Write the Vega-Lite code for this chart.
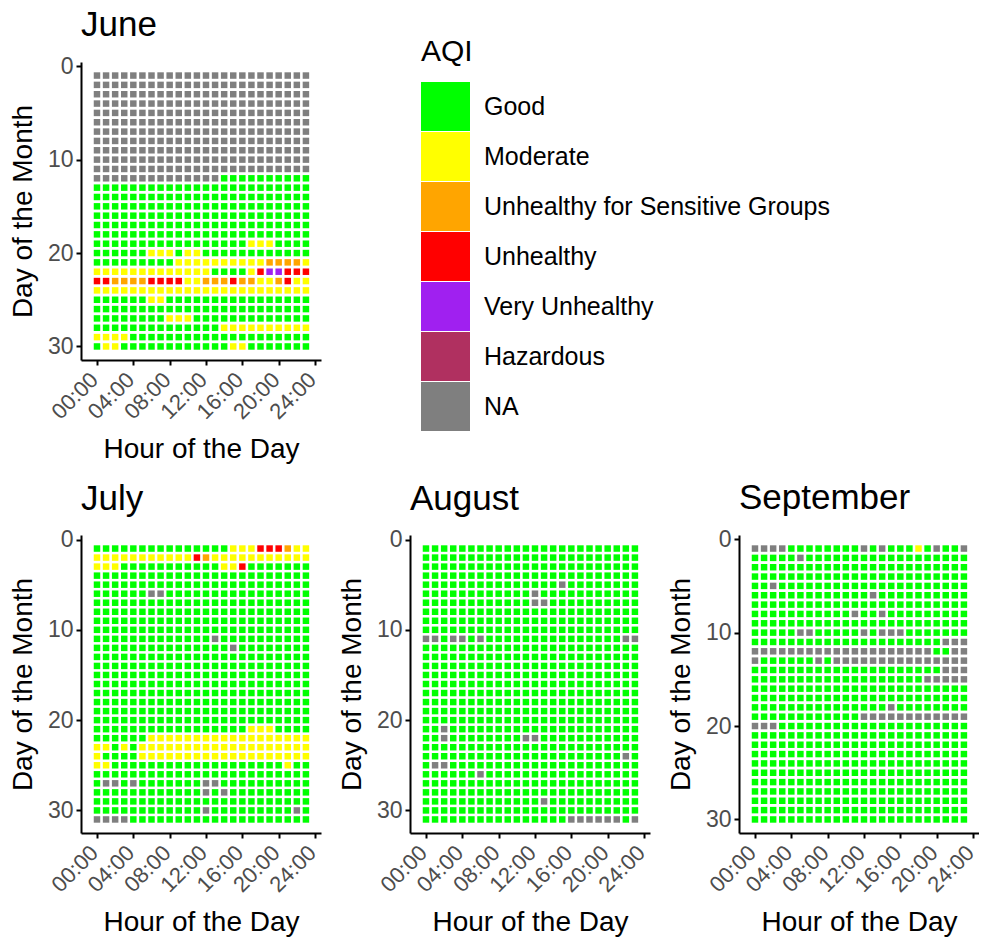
{
"$schema":"https://vega.github.io/schema/vega-lite/v6.json",
"padding":{"left":9,"top":8,"right":0,"bottom":0},
"background":"white",
"config":{"font":"Liberation Sans","view":{"stroke":null},
"axis":{"grid":false,"domainColor":"black","domainWidth":2,"tickColor":"black","tickWidth":2,"tickSize":5,"labelColor":"#4D4D4D","labelFontSize":22,"labelPadding":3,"labelOverlap":false,"titleFontSize":28,"titleFontWeight":"normal","titleColor":"black"},
"axisX":{"titlePadding":13,"labelPadding":11,"labelOffset":-3},
"axisY":{"titlePadding":10,"labelFontSize":23},
"legend":{"orient":"none","legendX":340,"legendY":-25,"symbolType":"square","symbolSize":2401,"symbolStrokeWidth":0,"symbolOpacity":1,"rowPadding":1,"labelFontSize":25,"labelOffset":14,"labelColor":"black","labelLimit":0,"titleFontSize":30,"titleFontWeight":"normal","titleColor":"black","titlePadding":15,"padding":0},
"title":{"fontSize":35,"fontWeight":"normal","anchor":"start","frame":"group","color":"black","offset":12,"baseline":"alphabetic"}},
"datasets":{
"jun":[
{"d":1,"0":"N","1":"N","2":"N","3":"N","4":"N","5":"N","6":"N","7":"N","8":"N","9":"N","10":"N","11":"N","12":"N","13":"N","14":"N","15":"N","16":"N","17":"N","18":"N","19":"N","20":"N","21":"N","22":"N","23":"N"},
{"d":2,"0":"N","1":"N","2":"N","3":"N","4":"N","5":"N","6":"N","7":"N","8":"N","9":"N","10":"N","11":"N","12":"N","13":"N","14":"N","15":"N","16":"N","17":"N","18":"N","19":"N","20":"N","21":"N","22":"N","23":"N"},
{"d":3,"0":"N","1":"N","2":"N","3":"N","4":"N","5":"N","6":"N","7":"N","8":"N","9":"N","10":"N","11":"N","12":"N","13":"N","14":"N","15":"N","16":"N","17":"N","18":"N","19":"N","20":"N","21":"N","22":"N","23":"N"},
{"d":4,"0":"N","1":"N","2":"N","3":"N","4":"N","5":"N","6":"N","7":"N","8":"N","9":"N","10":"N","11":"N","12":"N","13":"N","14":"N","15":"N","16":"N","17":"N","18":"N","19":"N","20":"N","21":"N","22":"N","23":"N"},
{"d":5,"0":"N","1":"N","2":"N","3":"N","4":"N","5":"N","6":"N","7":"N","8":"N","9":"N","10":"N","11":"N","12":"N","13":"N","14":"N","15":"N","16":"N","17":"N","18":"N","19":"N","20":"N","21":"N","22":"N","23":"N"},
{"d":6,"0":"N","1":"N","2":"N","3":"N","4":"N","5":"N","6":"N","7":"N","8":"N","9":"N","10":"N","11":"N","12":"N","13":"N","14":"N","15":"N","16":"N","17":"N","18":"N","19":"N","20":"N","21":"N","22":"N","23":"N"},
{"d":7,"0":"N","1":"N","2":"N","3":"N","4":"N","5":"N","6":"N","7":"N","8":"N","9":"N","10":"N","11":"N","12":"N","13":"N","14":"N","15":"N","16":"N","17":"N","18":"N","19":"N","20":"N","21":"N","22":"N","23":"N"},
{"d":8,"0":"N","1":"N","2":"N","3":"N","4":"N","5":"N","6":"N","7":"N","8":"N","9":"N","10":"N","11":"N","12":"N","13":"N","14":"N","15":"N","16":"N","17":"N","18":"N","19":"N","20":"N","21":"N","22":"N","23":"N"},
{"d":9,"0":"N","1":"N","2":"N","3":"N","4":"N","5":"N","6":"N","7":"N","8":"N","9":"N","10":"N","11":"N","12":"N","13":"N","14":"N","15":"N","16":"N","17":"N","18":"N","19":"N","20":"N","21":"N","22":"N","23":"N"},
{"d":10,"0":"N","1":"N","2":"N","3":"N","4":"N","5":"N","6":"N","7":"N","8":"N","9":"N","10":"N","11":"N","12":"N","13":"N","14":"N","15":"N","16":"N","17":"N","18":"N","19":"N","20":"N","21":"N","22":"N","23":"N"},
{"d":11,"0":"N","1":"N","2":"N","3":"N","4":"N","5":"N","6":"N","7":"N","8":"N","9":"N","10":"N","11":"N","12":"N","13":"N","14":"N","15":"N","16":"N","17":"N","18":"N","19":"N","20":"N","21":"N","22":"N","23":"N"},
{"d":12,"0":"N","1":"N","2":"N","3":"N","4":"N","5":"N","6":"N","7":"N","8":"N","9":"N","10":"N","11":"N","12":"N","13":"N","14":"G","15":"G","16":"G","17":"G","18":"G","19":"G","20":"G","21":"G","22":"G","23":"G"},
{"d":13,"0":"G","1":"G","2":"G","3":"G","4":"G","5":"G","6":"G","7":"G","8":"G","9":"G","10":"G","11":"G","12":"G","13":"G","14":"G","15":"G","16":"G","17":"G","18":"G","19":"G","20":"G","21":"G","22":"G","23":"G"},
{"d":14,"0":"G","1":"G","2":"G","3":"G","4":"G","5":"G","6":"G","7":"G","8":"G","9":"G","10":"G","11":"G","12":"G","13":"G","14":"G","15":"G","16":"G","17":"G","18":"G","19":"G","20":"G","21":"G","22":"G","23":"G"},
{"d":15,"0":"G","1":"G","2":"G","3":"G","4":"G","5":"G","6":"G","7":"G","8":"G","9":"G","10":"G","11":"G","12":"G","13":"G","14":"G","15":"G","16":"G","17":"G","18":"G","19":"G","20":"G","21":"G","22":"G","23":"G"},
{"d":16,"0":"G","1":"G","2":"G","3":"G","4":"G","5":"G","6":"G","7":"G","8":"G","9":"G","10":"G","11":"G","12":"G","13":"G","14":"G","15":"G","16":"G","17":"G","18":"G","19":"G","20":"G","21":"G","22":"G","23":"G"},
{"d":17,"0":"G","1":"G","2":"G","3":"G","4":"G","5":"G","6":"G","7":"G","8":"G","9":"G","10":"G","11":"G","12":"G","13":"G","14":"G","15":"G","16":"G","17":"G","18":"G","19":"G","20":"G","21":"G","22":"G","23":"G"},
{"d":18,"0":"G","1":"G","2":"G","3":"G","4":"G","5":"G","6":"G","7":"G","8":"G","9":"G","10":"G","11":"G","12":"G","13":"G","14":"G","15":"G","16":"G","17":"G","18":"G","19":"G","20":"G","21":"G","22":"G","23":"G"},
{"d":19,"0":"G","1":"G","2":"G","3":"G","4":"G","5":"G","6":"G","7":"G","8":"G","9":"G","10":"G","11":"G","12":"G","13":"G","14":"G","15":"G","16":"G","17":"M","18":"M","19":"M","20":"G","21":"G","22":"G","23":"G"},
{"d":20,"0":"G","1":"G","2":"G","3":"G","4":"G","5":"G","6":"M","7":"M","8":"M","9":"G","10":"M","11":"M","12":"G","13":"G","14":"G","15":"G","16":"G","17":"G","18":"G","19":"G","20":"G","21":"G","22":"G","23":"G"},
{"d":21,"0":"G","1":"G","2":"G","3":"G","4":"G","5":"G","6":"G","7":"G","8":"G","9":"M","10":"M","11":"M","12":"M","13":"M","14":"M","15":"M","16":"M","17":"M","18":"M","19":"O","20":"O","21":"O","22":"O","23":"M"},
{"d":22,"0":"M","1":"M","2":"M","3":"M","4":"M","5":"M","6":"M","7":"M","8":"M","9":"M","10":"M","11":"M","12":"M","13":"G","14":"G","15":"G","16":"G","17":"M","18":"R","19":"P","20":"P","21":"R","22":"R","23":"R"},
{"d":23,"0":"R","1":"R","2":"O","3":"O","4":"O","5":"O","6":"R","7":"R","8":"R","9":"R","10":"M","11":"M","12":"O","13":"O","14":"O","15":"R","16":"O","17":"O","18":"M","19":"M","20":"O","21":"R","22":"M","23":"M"},
{"d":24,"0":"M","1":"M","2":"M","3":"M","4":"M","5":"M","6":"M","7":"M","8":"M","9":"M","10":"M","11":"M","12":"M","13":"M","14":"M","15":"M","16":"M","17":"M","18":"M","19":"M","20":"M","21":"M","22":"M","23":"M"},
{"d":25,"0":"G","1":"G","2":"G","3":"G","4":"G","5":"G","6":"M","7":"M","8":"G","9":"G","10":"G","11":"G","12":"G","13":"G","14":"G","15":"G","16":"G","17":"G","18":"G","19":"G","20":"G","21":"G","22":"G","23":"G"},
{"d":26,"0":"G","1":"G","2":"G","3":"G","4":"G","5":"G","6":"G","7":"G","8":"G","9":"G","10":"G","11":"G","12":"G","13":"G","14":"G","15":"G","16":"G","17":"G","18":"G","19":"G","20":"G","21":"G","22":"G","23":"G"},
{"d":27,"0":"G","1":"G","2":"G","3":"G","4":"G","5":"G","6":"G","7":"G","8":"M","9":"M","10":"M","11":"G","12":"G","13":"G","14":"G","15":"G","16":"G","17":"G","18":"G","19":"G","20":"G","21":"G","22":"G","23":"G"},
{"d":28,"0":"G","1":"G","2":"G","3":"G","4":"G","5":"G","6":"G","7":"G","8":"G","9":"G","10":"G","11":"G","12":"G","13":"G","14":"M","15":"M","16":"M","17":"M","18":"M","19":"M","20":"M","21":"M","22":"M","23":"M"},
{"d":29,"0":"M","1":"M","2":"M","3":"M","4":"G","5":"G","6":"G","7":"G","8":"G","9":"G","10":"G","11":"G","12":"G","13":"G","14":"G","15":"G","16":"G","17":"G","18":"G","19":"G","20":"G","21":"G","22":"G","23":"G"},
{"d":30,"0":"G","1":"M","2":"M","3":"G","4":"G","5":"G","6":"G","7":"G","8":"G","9":"G","10":"G","11":"G","12":"G","13":"G","14":"G","15":"M","16":"M","17":"G","18":"G","19":"G","20":"G","21":"G","22":"G","23":"G"}
],
"jul":[
{"d":1,"0":"G","1":"G","2":"G","3":"G","4":"G","5":"G","6":"G","7":"G","8":"G","9":"G","10":"G","11":"G","12":"G","13":"G","14":"G","15":"M","16":"M","17":"M","18":"R","19":"R","20":"R","21":"O","22":"M","23":"M"},
{"d":2,"0":"M","1":"M","2":"M","3":"M","4":"M","5":"M","6":"M","7":"M","8":"M","9":"M","10":"M","11":"R","12":"O","13":"M","14":"M","15":"M","16":"M","17":"M","18":"M","19":"M","20":"M","21":"M","22":"M","23":"M"},
{"d":3,"0":"M","1":"M","2":"M","3":"G","4":"G","5":"G","6":"G","7":"G","8":"G","9":"G","10":"G","11":"G","12":"G","13":"G","14":"M","15":"M","16":"R","17":"G","18":"G","19":"G","20":"G","21":"G","22":"G","23":"G"},
{"d":4,"0":"G","1":"G","2":"G","3":"G","4":"G","5":"G","6":"G","7":"G","8":"G","9":"G","10":"G","11":"G","12":"G","13":"G","14":"G","15":"G","16":"G","17":"G","18":"G","19":"G","20":"G","21":"G","22":"G","23":"G"},
{"d":5,"0":"G","1":"G","2":"G","3":"G","4":"G","5":"G","6":"G","7":"G","8":"G","9":"G","10":"G","11":"G","12":"G","13":"G","14":"G","15":"G","16":"G","17":"G","18":"G","19":"G","20":"G","21":"G","22":"G","23":"G"},
{"d":6,"0":"G","1":"G","2":"G","3":"G","4":"G","5":"G","6":"N","7":"N","8":"G","9":"G","10":"G","11":"G","12":"G","13":"G","14":"G","15":"G","16":"G","17":"G","18":"G","19":"G","20":"G","21":"G","22":"G","23":"G"},
{"d":7,"0":"G","1":"G","2":"G","3":"G","4":"G","5":"G","6":"G","7":"G","8":"G","9":"G","10":"G","11":"G","12":"G","13":"G","14":"G","15":"G","16":"G","17":"G","18":"G","19":"G","20":"G","21":"G","22":"G","23":"G"},
{"d":8,"0":"G","1":"G","2":"G","3":"G","4":"G","5":"G","6":"G","7":"G","8":"G","9":"G","10":"G","11":"G","12":"G","13":"G","14":"G","15":"G","16":"G","17":"G","18":"G","19":"G","20":"G","21":"G","22":"G","23":"G"},
{"d":9,"0":"G","1":"G","2":"G","3":"G","4":"G","5":"G","6":"G","7":"G","8":"G","9":"G","10":"G","11":"G","12":"G","13":"G","14":"G","15":"G","16":"G","17":"G","18":"G","19":"G","20":"G","21":"G","22":"G","23":"G"},
{"d":10,"0":"G","1":"G","2":"G","3":"G","4":"G","5":"G","6":"G","7":"G","8":"G","9":"G","10":"G","11":"G","12":"G","13":"G","14":"G","15":"G","16":"G","17":"G","18":"G","19":"G","20":"G","21":"G","22":"G","23":"G"},
{"d":11,"0":"G","1":"G","2":"G","3":"G","4":"G","5":"G","6":"G","7":"G","8":"G","9":"G","10":"G","11":"G","12":"G","13":"N","14":"G","15":"G","16":"G","17":"G","18":"G","19":"G","20":"G","21":"G","22":"G","23":"G"},
{"d":12,"0":"G","1":"G","2":"G","3":"G","4":"G","5":"G","6":"G","7":"G","8":"G","9":"G","10":"G","11":"G","12":"G","13":"G","14":"G","15":"N","16":"G","17":"G","18":"G","19":"G","20":"G","21":"G","22":"G","23":"G"},
{"d":13,"0":"G","1":"G","2":"G","3":"G","4":"G","5":"G","6":"G","7":"G","8":"G","9":"G","10":"G","11":"G","12":"G","13":"G","14":"G","15":"G","16":"G","17":"G","18":"G","19":"G","20":"G","21":"G","22":"G","23":"G"},
{"d":14,"0":"G","1":"G","2":"G","3":"G","4":"G","5":"G","6":"G","7":"G","8":"G","9":"G","10":"G","11":"G","12":"G","13":"G","14":"G","15":"G","16":"G","17":"G","18":"G","19":"G","20":"G","21":"G","22":"G","23":"G"},
{"d":15,"0":"G","1":"G","2":"G","3":"G","4":"G","5":"G","6":"G","7":"G","8":"G","9":"G","10":"G","11":"G","12":"G","13":"G","14":"G","15":"G","16":"G","17":"G","18":"G","19":"G","20":"G","21":"G","22":"G","23":"G"},
{"d":16,"0":"G","1":"G","2":"G","3":"G","4":"G","5":"G","6":"G","7":"G","8":"G","9":"G","10":"G","11":"G","12":"G","13":"G","14":"G","15":"G","16":"G","17":"G","18":"G","19":"G","20":"G","21":"G","22":"G","23":"G"},
{"d":17,"0":"G","1":"G","2":"G","3":"G","4":"G","5":"G","6":"G","7":"G","8":"G","9":"G","10":"G","11":"G","12":"G","13":"G","14":"G","15":"G","16":"G","17":"G","18":"G","19":"G","20":"G","21":"G","22":"G","23":"G"},
{"d":18,"0":"G","1":"G","2":"G","3":"G","4":"G","5":"G","6":"G","7":"G","8":"G","9":"G","10":"G","11":"G","12":"G","13":"G","14":"G","15":"G","16":"G","17":"G","18":"G","19":"G","20":"G","21":"G","22":"G","23":"G"},
{"d":19,"0":"G","1":"G","2":"G","3":"G","4":"G","5":"G","6":"G","7":"G","8":"G","9":"G","10":"G","11":"G","12":"G","13":"G","14":"G","15":"G","16":"G","17":"G","18":"G","19":"G","20":"G","21":"G","22":"G","23":"G"},
{"d":20,"0":"G","1":"G","2":"G","3":"G","4":"G","5":"G","6":"G","7":"G","8":"G","9":"G","10":"G","11":"G","12":"G","13":"G","14":"G","15":"G","16":"G","17":"G","18":"G","19":"G","20":"G","21":"G","22":"G","23":"G"},
{"d":21,"0":"G","1":"G","2":"G","3":"G","4":"G","5":"G","6":"G","7":"G","8":"G","9":"G","10":"G","11":"G","12":"G","13":"G","14":"G","15":"G","16":"G","17":"M","18":"M","19":"M","20":"G","21":"G","22":"G","23":"G"},
{"d":22,"0":"G","1":"G","2":"G","3":"G","4":"G","5":"G","6":"M","7":"M","8":"M","9":"M","10":"M","11":"M","12":"M","13":"M","14":"M","15":"M","16":"M","17":"M","18":"M","19":"M","20":"M","21":"M","22":"M","23":"M"},
{"d":23,"0":"M","1":"M","2":"G","3":"M","4":"G","5":"M","6":"M","7":"M","8":"M","9":"M","10":"M","11":"M","12":"M","13":"M","14":"M","15":"M","16":"M","17":"M","18":"M","19":"M","20":"M","21":"M","22":"M","23":"M"},
{"d":24,"0":"M","1":"G","2":"G","3":"G","4":"G","5":"M","6":"M","7":"M","8":"M","9":"M","10":"M","11":"M","12":"M","13":"M","14":"M","15":"M","16":"M","17":"M","18":"M","19":"M","20":"M","21":"M","22":"M","23":"M"},
{"d":25,"0":"M","1":"M","2":"G","3":"G","4":"G","5":"G","6":"G","7":"G","8":"G","9":"G","10":"G","11":"G","12":"G","13":"G","14":"G","15":"G","16":"G","17":"G","18":"G","19":"G","20":"G","21":"M","22":"G","23":"G"},
{"d":26,"0":"G","1":"G","2":"G","3":"G","4":"G","5":"G","6":"G","7":"G","8":"G","9":"G","10":"G","11":"G","12":"G","13":"G","14":"G","15":"G","16":"G","17":"G","18":"G","19":"G","20":"G","21":"G","22":"G","23":"G"},
{"d":27,"0":"G","1":"N","2":"N","3":"G","4":"N","5":"G","6":"G","7":"G","8":"G","9":"G","10":"G","11":"G","12":"N","13":"N","14":"G","15":"G","16":"G","17":"G","18":"G","19":"G","20":"G","21":"G","22":"G","23":"G"},
{"d":28,"0":"G","1":"G","2":"G","3":"G","4":"G","5":"G","6":"G","7":"G","8":"G","9":"G","10":"G","11":"G","12":"N","13":"G","14":"N","15":"G","16":"G","17":"G","18":"G","19":"G","20":"G","21":"G","22":"G","23":"G"},
{"d":29,"0":"G","1":"G","2":"G","3":"G","4":"G","5":"G","6":"G","7":"G","8":"G","9":"G","10":"G","11":"G","12":"G","13":"G","14":"G","15":"G","16":"G","17":"G","18":"G","19":"G","20":"G","21":"G","22":"G","23":"G"},
{"d":30,"0":"G","1":"G","2":"G","3":"G","4":"G","5":"G","6":"G","7":"G","8":"G","9":"G","10":"G","11":"G","12":"N","13":"G","14":"G","15":"G","16":"G","17":"G","18":"G","19":"G","20":"G","21":"G","22":"N","23":"G"},
{"d":31,"0":"N","1":"N","2":"N","3":"N","4":"G","5":"G","6":"G","7":"G","8":"G","9":"G","10":"G","11":"G","12":"G","13":"G","14":"G","15":"G","16":"G","17":"G","18":"G","19":"G","20":"G","21":"G","22":"G","23":"G"}
],
"aug":[
{"d":1,"0":"G","1":"G","2":"G","3":"G","4":"G","5":"G","6":"G","7":"G","8":"G","9":"G","10":"G","11":"G","12":"G","13":"G","14":"G","15":"G","16":"G","17":"G","18":"G","19":"G","20":"G","21":"G","22":"G","23":"G"},
{"d":2,"0":"G","1":"G","2":"G","3":"G","4":"G","5":"G","6":"G","7":"G","8":"G","9":"G","10":"G","11":"G","12":"G","13":"G","14":"G","15":"G","16":"G","17":"G","18":"G","19":"G","20":"G","21":"G","22":"G","23":"G"},
{"d":3,"0":"G","1":"G","2":"G","3":"G","4":"G","5":"G","6":"G","7":"G","8":"G","9":"G","10":"G","11":"G","12":"G","13":"G","14":"G","15":"G","16":"G","17":"G","18":"G","19":"G","20":"G","21":"G","22":"G","23":"G"},
{"d":4,"0":"G","1":"G","2":"G","3":"G","4":"G","5":"G","6":"G","7":"G","8":"G","9":"G","10":"G","11":"G","12":"G","13":"G","14":"G","15":"G","16":"G","17":"G","18":"G","19":"G","20":"G","21":"G","22":"G","23":"G"},
{"d":5,"0":"G","1":"G","2":"G","3":"G","4":"G","5":"G","6":"G","7":"G","8":"G","9":"G","10":"G","11":"G","12":"G","13":"G","14":"G","15":"N","16":"G","17":"G","18":"G","19":"G","20":"G","21":"G","22":"G","23":"G"},
{"d":6,"0":"G","1":"G","2":"G","3":"G","4":"G","5":"G","6":"G","7":"G","8":"G","9":"G","10":"G","11":"G","12":"N","13":"G","14":"G","15":"G","16":"G","17":"G","18":"G","19":"G","20":"G","21":"G","22":"G","23":"G"},
{"d":7,"0":"G","1":"G","2":"G","3":"G","4":"G","5":"G","6":"G","7":"G","8":"G","9":"G","10":"G","11":"G","12":"N","13":"N","14":"G","15":"G","16":"G","17":"G","18":"G","19":"G","20":"G","21":"G","22":"G","23":"G"},
{"d":8,"0":"G","1":"G","2":"G","3":"G","4":"G","5":"G","6":"G","7":"G","8":"G","9":"G","10":"G","11":"G","12":"G","13":"G","14":"G","15":"G","16":"G","17":"G","18":"G","19":"G","20":"G","21":"G","22":"G","23":"G"},
{"d":9,"0":"G","1":"G","2":"G","3":"G","4":"G","5":"G","6":"G","7":"G","8":"G","9":"G","10":"G","11":"G","12":"G","13":"G","14":"G","15":"G","16":"G","17":"G","18":"G","19":"G","20":"G","21":"G","22":"G","23":"G"},
{"d":10,"0":"G","1":"G","2":"G","3":"G","4":"G","5":"G","6":"G","7":"G","8":"G","9":"G","10":"G","11":"G","12":"G","13":"G","14":"G","15":"G","16":"G","17":"G","18":"G","19":"G","20":"G","21":"G","22":"G","23":"G"},
{"d":11,"0":"N","1":"N","2":"G","3":"N","4":"N","5":"G","6":"N","7":"G","8":"G","9":"G","10":"G","11":"G","12":"G","13":"G","14":"G","15":"G","16":"G","17":"G","18":"G","19":"G","20":"G","21":"G","22":"N","23":"N"},
{"d":12,"0":"G","1":"G","2":"G","3":"G","4":"G","5":"G","6":"G","7":"G","8":"G","9":"G","10":"G","11":"G","12":"G","13":"G","14":"G","15":"G","16":"G","17":"G","18":"G","19":"G","20":"G","21":"G","22":"G","23":"G"},
{"d":13,"0":"G","1":"G","2":"G","3":"G","4":"G","5":"G","6":"G","7":"G","8":"G","9":"G","10":"G","11":"G","12":"G","13":"G","14":"G","15":"G","16":"G","17":"G","18":"G","19":"G","20":"G","21":"G","22":"G","23":"G"},
{"d":14,"0":"G","1":"G","2":"G","3":"G","4":"G","5":"G","6":"G","7":"G","8":"G","9":"G","10":"G","11":"G","12":"G","13":"G","14":"G","15":"G","16":"G","17":"G","18":"G","19":"G","20":"G","21":"G","22":"G","23":"G"},
{"d":15,"0":"G","1":"G","2":"G","3":"G","4":"G","5":"G","6":"G","7":"G","8":"G","9":"G","10":"G","11":"G","12":"G","13":"G","14":"G","15":"G","16":"G","17":"G","18":"G","19":"G","20":"G","21":"G","22":"G","23":"G"},
{"d":16,"0":"G","1":"G","2":"G","3":"G","4":"G","5":"G","6":"G","7":"G","8":"G","9":"G","10":"G","11":"G","12":"G","13":"G","14":"G","15":"G","16":"G","17":"G","18":"G","19":"G","20":"G","21":"G","22":"G","23":"G"},
{"d":17,"0":"G","1":"G","2":"G","3":"G","4":"G","5":"G","6":"G","7":"G","8":"G","9":"G","10":"G","11":"G","12":"G","13":"G","14":"G","15":"G","16":"G","17":"G","18":"G","19":"G","20":"G","21":"G","22":"G","23":"G"},
{"d":18,"0":"G","1":"G","2":"G","3":"G","4":"G","5":"G","6":"G","7":"G","8":"G","9":"G","10":"G","11":"G","12":"G","13":"G","14":"G","15":"G","16":"G","17":"G","18":"G","19":"G","20":"G","21":"G","22":"G","23":"G"},
{"d":19,"0":"G","1":"G","2":"G","3":"G","4":"G","5":"G","6":"G","7":"G","8":"G","9":"G","10":"G","11":"G","12":"G","13":"G","14":"G","15":"G","16":"G","17":"G","18":"G","19":"G","20":"G","21":"G","22":"G","23":"G"},
{"d":20,"0":"G","1":"G","2":"G","3":"G","4":"G","5":"G","6":"G","7":"G","8":"G","9":"G","10":"G","11":"G","12":"G","13":"G","14":"G","15":"G","16":"G","17":"G","18":"G","19":"G","20":"G","21":"G","22":"G","23":"G"},
{"d":21,"0":"G","1":"G","2":"N","3":"G","4":"G","5":"G","6":"G","7":"G","8":"G","9":"G","10":"G","11":"G","12":"G","13":"G","14":"G","15":"G","16":"G","17":"G","18":"G","19":"G","20":"G","21":"G","22":"G","23":"G"},
{"d":22,"0":"G","1":"G","2":"N","3":"G","4":"G","5":"G","6":"G","7":"G","8":"G","9":"G","10":"G","11":"N","12":"N","13":"G","14":"G","15":"G","16":"G","17":"G","18":"G","19":"G","20":"G","21":"G","22":"G","23":"G"},
{"d":23,"0":"G","1":"G","2":"G","3":"G","4":"G","5":"G","6":"G","7":"G","8":"G","9":"G","10":"G","11":"G","12":"G","13":"G","14":"G","15":"G","16":"G","17":"G","18":"G","19":"G","20":"G","21":"G","22":"G","23":"G"},
{"d":24,"0":"G","1":"G","2":"G","3":"G","4":"G","5":"G","6":"G","7":"G","8":"G","9":"G","10":"G","11":"G","12":"G","13":"G","14":"G","15":"G","16":"G","17":"G","18":"G","19":"G","20":"G","21":"G","22":"N","23":"G"},
{"d":25,"0":"G","1":"N","2":"N","3":"G","4":"G","5":"G","6":"G","7":"G","8":"G","9":"G","10":"G","11":"G","12":"G","13":"G","14":"G","15":"G","16":"G","17":"G","18":"G","19":"G","20":"G","21":"G","22":"G","23":"G"},
{"d":26,"0":"G","1":"G","2":"G","3":"G","4":"G","5":"G","6":"N","7":"G","8":"G","9":"G","10":"G","11":"G","12":"G","13":"G","14":"G","15":"G","16":"G","17":"G","18":"G","19":"G","20":"G","21":"G","22":"G","23":"G"},
{"d":27,"0":"G","1":"G","2":"G","3":"G","4":"G","5":"G","6":"G","7":"G","8":"G","9":"G","10":"G","11":"G","12":"G","13":"G","14":"G","15":"G","16":"G","17":"G","18":"G","19":"G","20":"G","21":"G","22":"G","23":"G"},
{"d":28,"0":"G","1":"G","2":"G","3":"G","4":"G","5":"G","6":"G","7":"G","8":"G","9":"G","10":"G","11":"G","12":"G","13":"G","14":"G","15":"G","16":"G","17":"G","18":"G","19":"G","20":"G","21":"G","22":"G","23":"G"},
{"d":29,"0":"G","1":"G","2":"G","3":"G","4":"G","5":"G","6":"G","7":"G","8":"G","9":"G","10":"G","11":"G","12":"G","13":"N","14":"G","15":"G","16":"G","17":"G","18":"G","19":"G","20":"G","21":"G","22":"G","23":"G"},
{"d":30,"0":"G","1":"G","2":"G","3":"G","4":"G","5":"G","6":"G","7":"G","8":"G","9":"G","10":"G","11":"G","12":"G","13":"G","14":"G","15":"G","16":"G","17":"G","18":"G","19":"G","20":"G","21":"G","22":"G","23":"G"},
{"d":31,"0":"G","1":"G","2":"G","3":"G","4":"G","5":"G","6":"G","7":"G","8":"G","9":"G","10":"G","11":"G","12":"G","13":"G","14":"G","15":"G","16":"N","17":"N","18":"N","19":"N","20":"N","21":"N","22":"G","23":"N"}
],
"sep":[
{"d":1,"0":"N","1":"N","2":"N","3":"N","4":"G","5":"G","6":"G","7":"G","8":"G","9":"G","10":"G","11":"G","12":"N","13":"G","14":"N","15":"G","16":"G","17":"G","18":"M","19":"G","20":"N","21":"G","22":"G","23":"N"},
{"d":2,"0":"G","1":"G","2":"G","3":"G","4":"G","5":"N","6":"G","7":"G","8":"G","9":"G","10":"G","11":"G","12":"G","13":"G","14":"G","15":"G","16":"G","17":"G","18":"G","19":"G","20":"G","21":"G","22":"G","23":"G"},
{"d":3,"0":"G","1":"G","2":"G","3":"G","4":"G","5":"G","6":"G","7":"G","8":"G","9":"G","10":"G","11":"G","12":"G","13":"G","14":"G","15":"G","16":"G","17":"G","18":"G","19":"G","20":"G","21":"G","22":"G","23":"G"},
{"d":4,"0":"G","1":"G","2":"G","3":"G","4":"G","5":"G","6":"G","7":"G","8":"G","9":"G","10":"G","11":"G","12":"G","13":"G","14":"G","15":"G","16":"G","17":"G","18":"G","19":"G","20":"G","21":"G","22":"G","23":"G"},
{"d":5,"0":"G","1":"G","2":"N","3":"G","4":"G","5":"G","6":"G","7":"G","8":"G","9":"G","10":"G","11":"G","12":"G","13":"G","14":"G","15":"G","16":"G","17":"G","18":"G","19":"G","20":"G","21":"G","22":"G","23":"G"},
{"d":6,"0":"G","1":"G","2":"G","3":"G","4":"G","5":"G","6":"G","7":"G","8":"G","9":"G","10":"G","11":"G","12":"G","13":"N","14":"G","15":"G","16":"G","17":"G","18":"G","19":"G","20":"G","21":"G","22":"G","23":"G"},
{"d":7,"0":"G","1":"G","2":"G","3":"G","4":"G","5":"G","6":"G","7":"G","8":"G","9":"G","10":"G","11":"G","12":"G","13":"G","14":"G","15":"G","16":"G","17":"G","18":"G","19":"G","20":"G","21":"G","22":"G","23":"G"},
{"d":8,"0":"G","1":"G","2":"G","3":"G","4":"G","5":"G","6":"G","7":"G","8":"G","9":"G","10":"G","11":"N","12":"G","13":"G","14":"N","15":"G","16":"G","17":"G","18":"G","19":"G","20":"G","21":"G","22":"G","23":"G"},
{"d":9,"0":"G","1":"G","2":"G","3":"G","4":"G","5":"G","6":"G","7":"G","8":"G","9":"G","10":"G","11":"G","12":"G","13":"G","14":"G","15":"G","16":"G","17":"G","18":"G","19":"G","20":"G","21":"G","22":"G","23":"G"},
{"d":10,"0":"G","1":"G","2":"G","3":"G","4":"G","5":"N","6":"N","7":"G","8":"G","9":"G","10":"G","11":"G","12":"N","13":"G","14":"N","15":"N","16":"N","17":"G","18":"G","19":"G","20":"G","21":"G","22":"G","23":"G"},
{"d":11,"0":"G","1":"G","2":"G","3":"G","4":"G","5":"G","6":"G","7":"G","8":"G","9":"G","10":"G","11":"G","12":"G","13":"G","14":"G","15":"G","16":"G","17":"G","18":"G","19":"G","20":"G","21":"N","22":"N","23":"N"},
{"d":12,"0":"N","1":"N","2":"N","3":"N","4":"N","5":"N","6":"N","7":"N","8":"N","9":"N","10":"N","11":"N","12":"N","13":"N","14":"N","15":"N","16":"N","17":"N","18":"N","19":"N","20":"G","21":"G","22":"N","23":"N"},
{"d":13,"0":"N","1":"G","2":"G","3":"G","4":"G","5":"G","6":"G","7":"N","8":"G","9":"N","10":"N","11":"N","12":"N","13":"N","14":"N","15":"N","16":"N","17":"N","18":"N","19":"N","20":"N","21":"N","22":"N","23":"N"},
{"d":14,"0":"G","1":"G","2":"G","3":"G","4":"G","5":"G","6":"G","7":"G","8":"G","9":"G","10":"G","11":"G","12":"G","13":"G","14":"G","15":"G","16":"G","17":"G","18":"G","19":"G","20":"G","21":"N","22":"N","23":"N"},
{"d":15,"0":"G","1":"G","2":"G","3":"G","4":"G","5":"G","6":"G","7":"G","8":"G","9":"G","10":"G","11":"G","12":"G","13":"G","14":"G","15":"G","16":"G","17":"G","18":"G","19":"N","20":"N","21":"N","22":"N","23":"N"},
{"d":16,"0":"G","1":"G","2":"G","3":"G","4":"G","5":"G","6":"G","7":"G","8":"G","9":"G","10":"G","11":"G","12":"G","13":"G","14":"G","15":"G","16":"G","17":"G","18":"G","19":"G","20":"G","21":"G","22":"G","23":"G"},
{"d":17,"0":"G","1":"G","2":"G","3":"G","4":"G","5":"G","6":"G","7":"G","8":"G","9":"G","10":"G","11":"G","12":"G","13":"G","14":"G","15":"G","16":"G","17":"G","18":"G","19":"G","20":"G","21":"G","22":"G","23":"G"},
{"d":18,"0":"G","1":"G","2":"G","3":"G","4":"G","5":"G","6":"G","7":"G","8":"G","9":"G","10":"G","11":"G","12":"G","13":"G","14":"G","15":"N","16":"G","17":"G","18":"G","19":"G","20":"G","21":"G","22":"G","23":"G"},
{"d":19,"0":"G","1":"G","2":"G","3":"G","4":"G","5":"G","6":"G","7":"G","8":"G","9":"G","10":"G","11":"G","12":"N","13":"N","14":"N","15":"N","16":"N","17":"N","18":"N","19":"N","20":"N","21":"N","22":"N","23":"N"},
{"d":20,"0":"N","1":"N","2":"N","3":"G","4":"G","5":"G","6":"G","7":"G","8":"G","9":"G","10":"G","11":"G","12":"G","13":"G","14":"G","15":"G","16":"G","17":"G","18":"G","19":"G","20":"G","21":"G","22":"G","23":"G"},
{"d":21,"0":"G","1":"G","2":"G","3":"G","4":"G","5":"G","6":"G","7":"G","8":"G","9":"G","10":"G","11":"G","12":"G","13":"G","14":"G","15":"G","16":"G","17":"G","18":"G","19":"G","20":"G","21":"G","22":"G","23":"G"},
{"d":22,"0":"G","1":"G","2":"G","3":"G","4":"G","5":"G","6":"G","7":"G","8":"G","9":"G","10":"G","11":"G","12":"G","13":"G","14":"G","15":"G","16":"G","17":"G","18":"G","19":"G","20":"G","21":"G","22":"G","23":"G"},
{"d":23,"0":"G","1":"G","2":"G","3":"G","4":"G","5":"G","6":"G","7":"G","8":"G","9":"G","10":"G","11":"G","12":"G","13":"G","14":"G","15":"G","16":"G","17":"G","18":"G","19":"G","20":"G","21":"G","22":"G","23":"G"},
{"d":24,"0":"G","1":"G","2":"G","3":"G","4":"G","5":"G","6":"G","7":"G","8":"G","9":"G","10":"G","11":"G","12":"G","13":"G","14":"G","15":"G","16":"G","17":"G","18":"G","19":"G","20":"G","21":"G","22":"G","23":"G"},
{"d":25,"0":"G","1":"G","2":"G","3":"G","4":"G","5":"G","6":"G","7":"G","8":"G","9":"G","10":"G","11":"G","12":"G","13":"G","14":"G","15":"G","16":"G","17":"G","18":"G","19":"G","20":"G","21":"G","22":"G","23":"G"},
{"d":26,"0":"G","1":"G","2":"G","3":"G","4":"G","5":"G","6":"G","7":"G","8":"G","9":"G","10":"G","11":"G","12":"G","13":"G","14":"G","15":"G","16":"G","17":"G","18":"G","19":"G","20":"G","21":"G","22":"G","23":"G"},
{"d":27,"0":"G","1":"G","2":"G","3":"G","4":"G","5":"G","6":"G","7":"G","8":"G","9":"G","10":"G","11":"G","12":"G","13":"G","14":"G","15":"G","16":"G","17":"G","18":"G","19":"G","20":"G","21":"G","22":"G","23":"G"},
{"d":28,"0":"G","1":"G","2":"G","3":"G","4":"G","5":"G","6":"G","7":"G","8":"G","9":"G","10":"G","11":"G","12":"G","13":"G","14":"G","15":"G","16":"G","17":"G","18":"G","19":"G","20":"G","21":"G","22":"G","23":"G"},
{"d":29,"0":"G","1":"G","2":"G","3":"G","4":"G","5":"G","6":"G","7":"G","8":"G","9":"G","10":"G","11":"G","12":"G","13":"G","14":"G","15":"G","16":"G","17":"G","18":"G","19":"G","20":"G","21":"G","22":"G","23":"G"},
{"d":30,"0":"G","1":"G","2":"G","3":"G","4":"G","5":"G","6":"G","7":"G","8":"G","9":"G","10":"G","11":"G","12":"G","13":"G","14":"G","15":"G","16":"G","17":"G","18":"G","19":"G","20":"G","21":"G","22":"G","23":"G"}
]
},
"spacing":17,
"vconcat":[
{"width":240,"height":298,"title":{"text":"June"},"data":{"name":"jun"},
"transform":[{"fold":["0","1","2","3","4","5","6","7","8","9","10","11","12","13","14","15","16","17","18","19","20","21","22","23"],"as":["h","c"]}],
"mark":{"type":"square","size":42,"opacity":1},
"encoding":{
"x":{"field":"h","type":"quantitative","scale":{"domain":[-1.76,24.66],"nice":false,"zero":false},"axis":{"values":[0,4,8,12,16,20,24],"labelExpr":"(datum.value<10?'0':'')+datum.value+':00'","labelAngle":-45,"labelAlign":"right","labelBaseline":"middle","title":"Hour of the Day"}},
"y":{"field":"d","type":"quantitative","scale":{"domain":[-0.45,31.45],"reverse":true,"nice":false,"zero":false},"axis":{"values":[0,10,20,30],"title":"Day of the Month"}},
"color":{"field":"c","type":"nominal","scale":{"domain":["G","M","O","R","P","H","N"],"range":["#00FF00","#FFFF00","#FFA500","#FF0000","#A020F0","#B03060","#7F7F7F"]},
"legend":{"title":"AQI","orient":"none","legendX":340,"legendY":-25,
"labelExpr":"datum.label=='G'?'Good':datum.label=='M'?'Moderate':datum.label=='O'?'Unhealthy for Sensitive Groups':datum.label=='R'?'Unhealthy':datum.label=='P'?'Very Unhealthy':datum.label=='H'?'Hazardous':'NA'"}}}},
{"hconcat":[
{"width":240,"height":298,"title":{"text":"July"},"data":{"name":"jul"},
"transform":[{"fold":["0","1","2","3","4","5","6","7","8","9","10","11","12","13","14","15","16","17","18","19","20","21","22","23"],"as":["h","c"]}],
"mark":{"type":"square","size":42,"opacity":1},
"encoding":{
"x":{"field":"h","type":"quantitative","scale":{"domain":[-1.76,24.66],"nice":false,"zero":false},"axis":{"values":[0,4,8,12,16,20,24],"labelExpr":"(datum.value<10?'0':'')+datum.value+':00'","labelAngle":-45,"labelAlign":"right","labelBaseline":"middle","title":"Hour of the Day"}},
"y":{"field":"d","type":"quantitative","scale":{"domain":[-0.5,32.5],"reverse":true,"nice":false,"zero":false},"axis":{"values":[0,10,20,30],"title":"Day of the Month"}},
"color":{"field":"c","type":"nominal"}}},
{"width":240,"height":298,"title":{"text":"August"},"data":{"name":"aug"},
"transform":[{"fold":["0","1","2","3","4","5","6","7","8","9","10","11","12","13","14","15","16","17","18","19","20","21","22","23"],"as":["h","c"]}],
"mark":{"type":"square","size":42,"opacity":1},
"encoding":{
"x":{"field":"h","type":"quantitative","scale":{"domain":[-1.76,24.66],"nice":false,"zero":false},"axis":{"values":[0,4,8,12,16,20,24],"labelExpr":"(datum.value<10?'0':'')+datum.value+':00'","labelAngle":-45,"labelAlign":"right","labelBaseline":"middle","title":"Hour of the Day"}},
"y":{"field":"d","type":"quantitative","scale":{"domain":[-0.5,32.5],"reverse":true,"nice":false,"zero":false},"axis":{"values":[0,10,20,30],"title":"Day of the Month"}},
"color":{"field":"c","type":"nominal"}}},
{"width":240,"height":298,"title":{"text":"September"},"data":{"name":"sep"},
"transform":[{"fold":["0","1","2","3","4","5","6","7","8","9","10","11","12","13","14","15","16","17","18","19","20","21","22","23"],"as":["h","c"]}],
"mark":{"type":"square","size":42,"opacity":1},
"encoding":{
"x":{"field":"h","type":"quantitative","scale":{"domain":[-1.76,24.66],"nice":false,"zero":false},"axis":{"values":[0,4,8,12,16,20,24],"labelExpr":"(datum.value<10?'0':'')+datum.value+':00'","labelAngle":-45,"labelAlign":"right","labelBaseline":"middle","title":"Hour of the Day"}},
"y":{"field":"d","type":"quantitative","scale":{"domain":[-0.45,31.45],"reverse":true,"nice":false,"zero":false},"axis":{"values":[0,10,20,30],"title":"Day of the Month"}},
"color":{"field":"c","type":"nominal"}}}
],"spacing":17}
]
}
